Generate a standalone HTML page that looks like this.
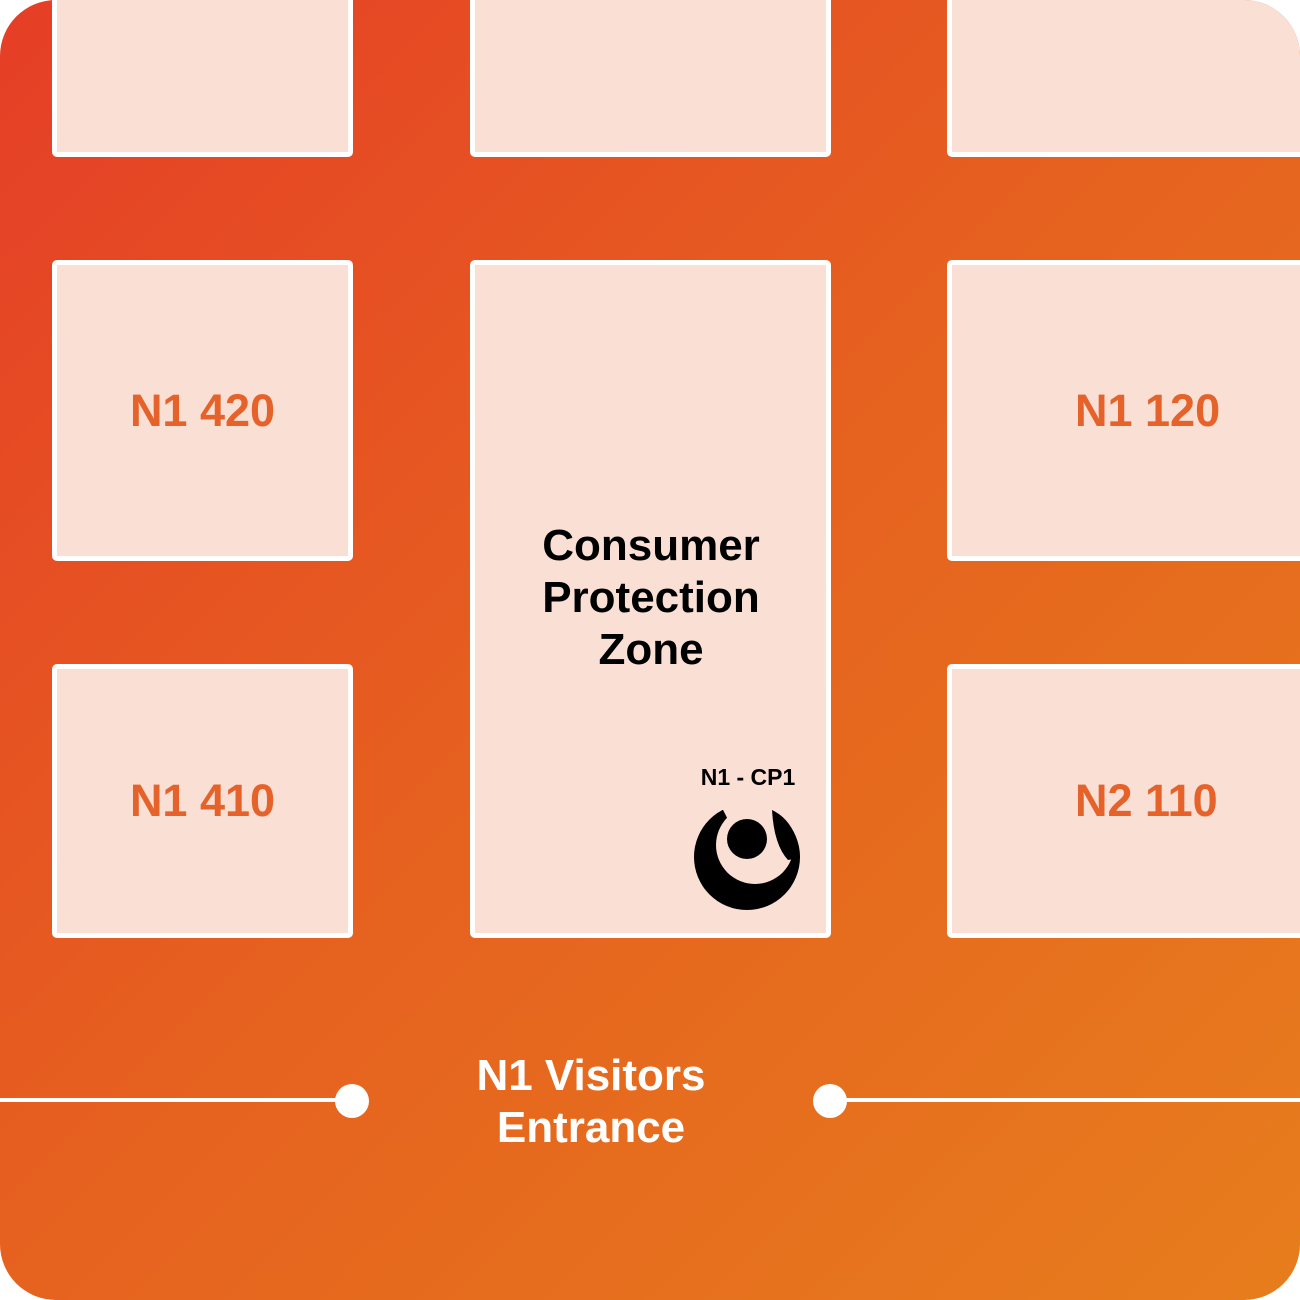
<!DOCTYPE html>
<html><head><style>
html,body{margin:0;padding:0;background:#fff;}
.wrap{position:relative;width:1300px;height:1300px;border-radius:56px;overflow:hidden;background:linear-gradient(135deg,#e53e27 0%,#e6621f 50%,#e77d1d 100%);font-family:"Liberation Sans",sans-serif;font-weight:bold;}
.b{position:absolute;background:#f9dfd4;border:5px solid #fff;border-radius:5px;box-sizing:border-box;display:flex;align-items:center;justify-content:center;color:#e5622a;font-size:45px;}
.t{position:absolute;text-align:center;font-size:44px;line-height:52px;}
</style></head><body>
<div class="wrap">
<div class="b" style="left:52px;top:-10px;width:301px;height:167px"></div>
<div class="b" style="left:470px;top:-10px;width:361px;height:167px"></div>
<div class="b" style="left:947px;top:-10px;width:370px;height:167px"></div>
<div class="b" style="left:52px;top:260px;width:301px;height:301px">N1 420</div>
<div class="b" style="left:470px;top:260px;width:361px;height:678px"></div>
<div class="b" style="left:947px;top:260px;width:370px;height:301px;justify-content:flex-start;padding-left:123px">N1 120</div>
<div class="b" style="left:52px;top:664px;width:301px;height:274px">N1 410</div>
<div class="b" style="left:947px;top:664px;width:370px;height:274px;justify-content:flex-start;padding-left:123px">N2 110</div>
<div class="t" style="left:470px;width:362px;top:520px;color:#000">Consumer<br>Protection<br>Zone</div>
<div class="t" style="left:680px;width:136px;top:752px;color:#000;font-size:23px;line-height:50px">N1 - CP1</div>
<svg style="position:absolute;left:0;top:0" width="1300" height="1300">
<circle cx="747" cy="857" r="53" fill="#000"/>
<circle cx="755" cy="845" r="39" fill="#f9dfd4"/>
<path d="M747 857 L718 800 L790 800 Z" fill="#f9dfd4"/>
<path d="M772 810 Q797 822 800 858 L788 860 Q774 845 772 810 Z" fill="#000"/>
<circle cx="747" cy="839" r="20" fill="#000"/>
<line x1="0" y1="1100" x2="352" y2="1100" stroke="#fff" stroke-width="4"/>
<circle cx="352" cy="1101" r="17" fill="#fff"/>
<line x1="830" y1="1100" x2="1300" y2="1100" stroke="#fff" stroke-width="4"/>
<circle cx="830" cy="1101" r="17" fill="#fff"/>
</svg>
<div class="t" style="left:391px;width:400px;top:1050px;color:#fff">N1 Visitors<br>Entrance</div>
</div>
</body></html>
